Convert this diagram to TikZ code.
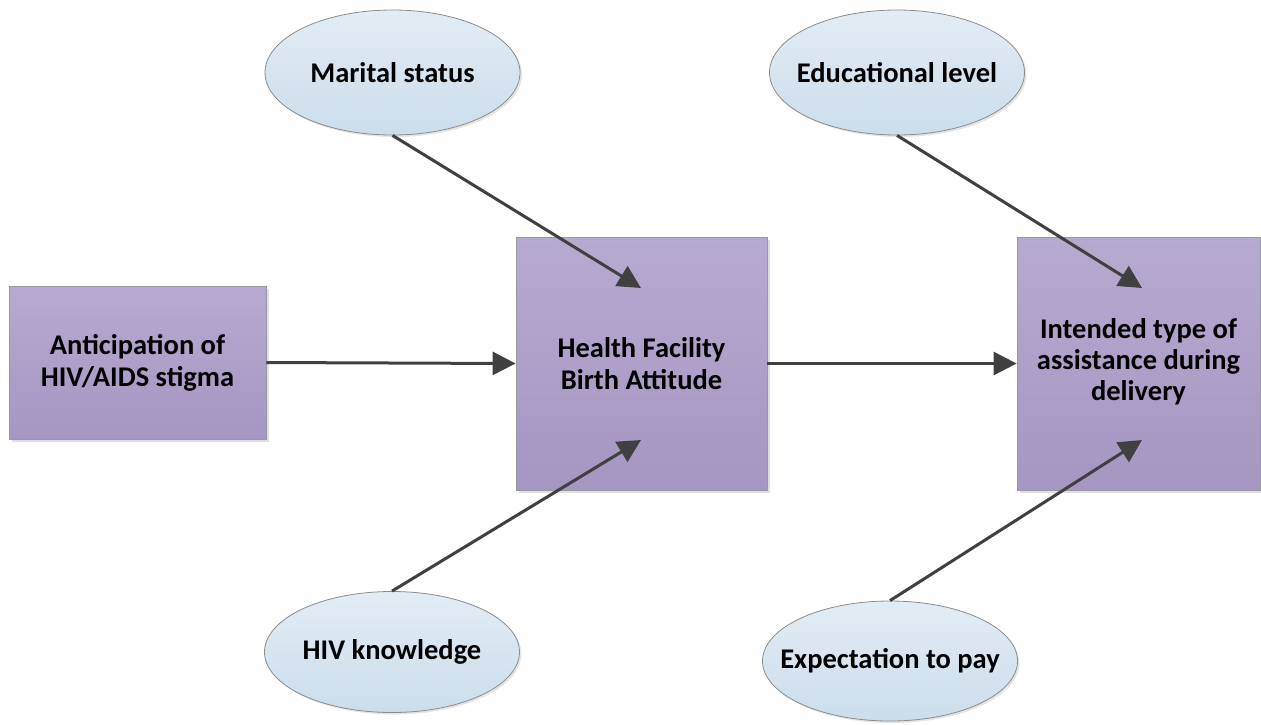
\documentclass[tikz,border=0pt]{standalone}
\usepackage{fontspec}
\setmainfont{Carlito}
\usetikzlibrary{shapes.geometric,arrows.meta,shadows}
\definecolor{boxtop}{HTML}{B7AAD0}
\definecolor{boxbot}{HTML}{A596C2}
\definecolor{elltop}{HTML}{E2ECF5}
\definecolor{ellbot}{HTML}{CCDDEB}
\definecolor{linec}{HTML}{404040}
\tikzset{
  txt/.style={font=\bfseries\fontsize{28.5}{32}\selectfont, align=center},
  box/.style={rectangle, draw=gray!80, line width=0.8pt, top color=boxtop, bottom color=boxbot,
    txt, inner sep=0pt,
    drop shadow={shadow xshift=3pt, shadow yshift=-3pt, fill=black!25, opacity=0.5}},
  oval/.style={ellipse, draw=gray!90, line width=0.8pt, top color=elltop, bottom color=ellbot,
    inner sep=0pt, minimum width=255pt,
    drop shadow={shadow xshift=2pt, shadow yshift=-2pt, fill=black!20, opacity=0.5}},
  conn/.style={draw=linec, line width=3pt, -{Triangle[length=23pt,width=23pt]}}
}
\begin{document}
\begin{tikzpicture}[x=1pt,y=-1pt]
\useasboundingbox (0,0) rectangle (1261,724);
\node[box, minimum width=257pt, minimum height=153pt] (ant) at (137.5,362.5) {Anticipation of\\HIV/AIDS stigma};
\node[box, minimum width=251pt, minimum height=253pt] (hfb) at (641.5,363.5) {Health Facility\\ Birth Attitude};
\node[box, minimum width=243pt, minimum height=253pt] (itd) at (1138.5,363.5) {\raisebox{-6pt}{\begin{tabular}{@{}c@{}}Intended type of\\[-1pt]assistance during\\[-1pt]delivery\end{tabular}}};
\node[oval, minimum height=125pt, label={[txt, name=marT]center:Marital status}] (mar) at (392.5,72.5) {};
\node[oval, minimum height=125pt, label={[txt, name=eduT]center:Educational level}] (edu) at (897,72.5) {};
\node[oval, minimum height=121pt, label={[txt, name=hivT]center:HIV knowledge}] (hiv) at (392,652) {};
\node[oval, minimum height=120pt, label={[txt, name=expT]center:Expectation to pay}] (exp) at (890,661) {};
\coordinate (hfbT) at (641,288);
\coordinate (hfbB) at (641,440);
\coordinate (itdT) at (1142,288);
\coordinate (itdB) at (1142,440);
\draw[conn] (ant.east) -- (hfb.west);
\draw[conn] (hfb.east) -- (itd.west);
\draw[conn] (mar.south) -- (hfbT);
\draw[conn] (hiv.north) -- (hfbB);
\draw[conn] (edu.south) -- (itdT);
\draw[conn] (exp.north) -- (itdB);
\end{tikzpicture}
\end{document}
